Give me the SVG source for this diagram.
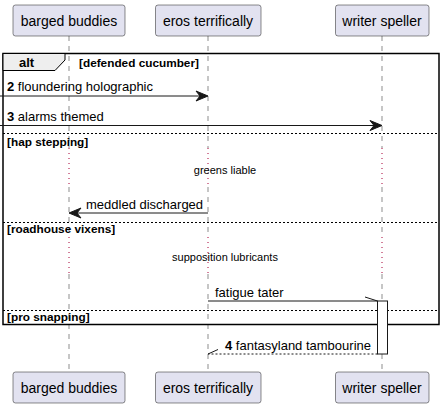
<svg xmlns="http://www.w3.org/2000/svg" width="445" height="408" viewBox="0 0 445 408">
<style>
text{font-family:"Liberation Sans",Arial,sans-serif;fill:#000}
.pbox{fill:#E2E2F0;stroke:#181818;stroke-width:0.5}
.pt{font-size:14px;text-anchor:middle}
.life{stroke:#181818;stroke-width:0.5;stroke-dasharray:5,5;fill:none}
.delay{stroke:#A80036;stroke-width:1;stroke-dasharray:1,4;fill:none}
.msg{font-size:13px}
.num{font-weight:bold}
.line{stroke:#181818;stroke-width:1;fill:none}
.dash{stroke:#181818;stroke-width:1;fill:none;stroke-dasharray:2,2}
.head{fill:#181818;stroke:#181818;stroke-width:1}
.frame{fill:none;stroke:#000;stroke-width:1.5}
.sep{stroke:#000;stroke-width:1;stroke-dasharray:2,2}
.guard{font-size:11.8px;font-weight:bold}
.dtext{font-size:11px;text-anchor:middle}
</style>
<g id="lifelines">
<path class="life" d="M69,36V148M69,187V237M69,274V372"/>
<path class="life" d="M208,36V148M208,187V237M208,274V372"/>
<path class="life" d="M382,36V148M382,187V237M382,274V372"/>
<path class="delay" d="M69,148V187M208,148V187M382,148V187M69,237V274M208,237V274M382,237V274"/>
</g>
<g id="p-barged-buddies">
<rect class="pbox" x="13" y="5" width="112" height="31" rx="2.5"/>
<text class="pt" x="69" y="26">barged buddies</text>
<rect class="pbox" x="13" y="372" width="112" height="31" rx="2.5"/>
<text class="pt" x="69" y="393">barged buddies</text>
</g>
<g id="p-eros-terrifically">
<rect class="pbox" x="155.5" y="5" width="105.5" height="31" rx="2.5"/>
<text class="pt" x="208" y="26">eros terrifically</text>
<rect class="pbox" x="155.5" y="372" width="105.5" height="31" rx="2.5"/>
<text class="pt" x="208" y="393">eros terrifically</text>
</g>
<g id="p-writer-speller">
<rect class="pbox" x="335.5" y="5" width="93.5" height="31" rx="2.5"/>
<text class="pt" x="382" y="26">writer speller</text>
<rect class="pbox" x="335.5" y="372" width="93.5" height="31" rx="2.5"/>
<text class="pt" x="382" y="393">writer speller</text>
</g>
<g id="alt-frame">
<rect class="frame" x="3" y="53.5" width="436" height="271"/>
<polygon points="3,53.5 65,53.5 65,60 55,70.5 3,70.5" fill="#EEEEEE" stroke="#000" stroke-width="1"/>
<text x="19" y="67" style="font-size:13px;font-weight:bold">alt</text>
<text class="guard" x="79" y="67">[defended cucumber]</text>
<line class="sep" x1="3" y1="133.5" x2="439" y2="133.5"/>
<text class="guard" x="7" y="146">[hap stepping]</text>
<line class="sep" x1="3" y1="222.5" x2="439" y2="222.5"/>
<text class="guard" x="7" y="233">[roadhouse vixens]</text>
<line class="sep" x1="3" y1="310.5" x2="439" y2="310.5"/>
<text class="guard" x="7" y="321">[pro snapping]</text>
</g>
<g id="delays">
<text class="dtext" x="225" y="174">greens liable</text>
<text class="dtext" x="225" y="261">supposition lubricants</text>
</g>
<g id="activation">
<rect x="377.5" y="301" width="10" height="53" fill="#FFFFFF" stroke="#181818" stroke-width="1"/>
</g>
<g id="connectors">
<line class="line" x1="0" y1="96" x2="206" y2="96"/>
<polygon class="head" points="196,91 208,96 196,101 200,96"/>
<text class="msg" x="7" y="91"><tspan class="num">2</tspan> floundering holographic</text>
<line class="line" x1="0" y1="125.5" x2="380" y2="125.5"/>
<polygon class="head" points="370,120.5 382,125.5 370,130.5 374,125.5"/>
<text class="msg" x="7" y="121"><tspan class="num">3</tspan> alarms themed</text>
<line class="line" x1="71" y1="213" x2="208" y2="213"/>
<polygon class="head" points="81,208 69,213 81,218 77,213"/>
<text class="msg" x="86" y="209">meddled discharged</text>
<line class="line" x1="208" y1="301" x2="377.5" y2="301"/>
<line class="line" x1="365" y1="297" x2="377.5" y2="301"/>
<text class="msg" x="215" y="297">fatigue tater</text>
<line class="dash" x1="377.5" y1="354" x2="208" y2="354"/>
<line class="line" x1="208" y1="354" x2="218" y2="349.5"/>
<text class="msg" x="225" y="349.5"><tspan class="num">4</tspan> fantasyland tambourine</text>
</g>
</svg>
